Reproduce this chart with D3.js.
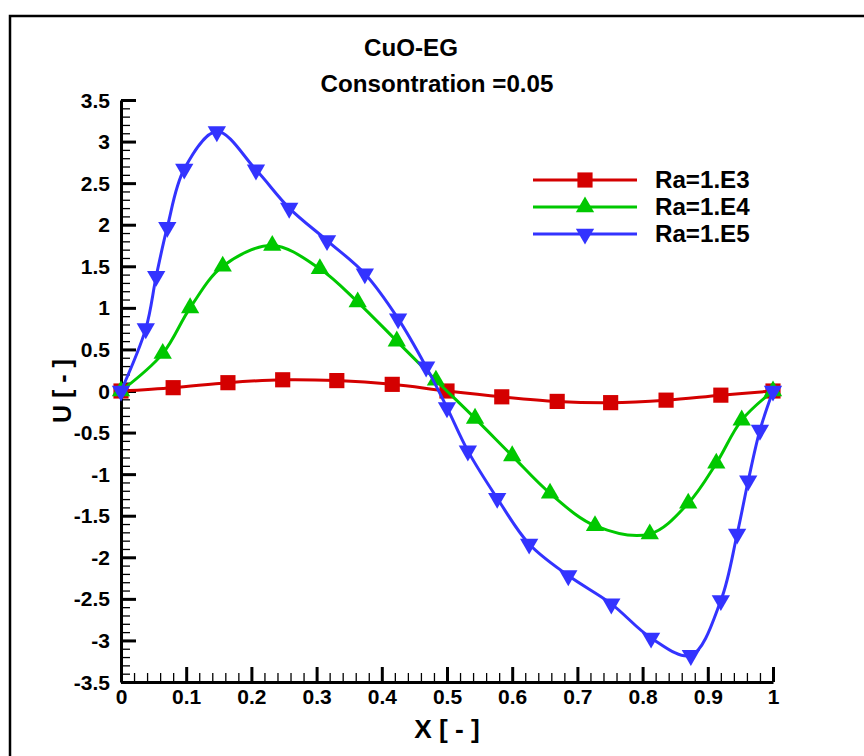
<!DOCTYPE html>
<html>
<head>
<meta charset="utf-8">
<script src="https://cdn.jsdelivr.net/npm/d3@7/dist/d3.min.js"></script>
<style>
  body { margin: 0; background: #fff; }
  text { font-family: "Liberation Sans", Arial, sans-serif; font-weight: bold; fill: #000; }
</style>
</head>
<body>
<svg id="chart" width="864" height="756"></svg>
<script>
'use strict';

// series (marker positions)
var seriesNames = ['Ra=1.E3', 'Ra=1.E4', 'Ra=1.E5'];
var seriesColors = ['#d40000', '#00c800', '#3333ff'];
var seriesSymbols = ['square', 'up', 'down'];

var ra3X = [0, 0.08, 0.164, 0.248, 0.331, 0.416, 0.5, 0.584, 0.669, 0.751, 0.836, 0.92, 1];
var ra3U = [0, 0.04, 0.10, 0.135, 0.125, 0.08, 0.0, -0.07, -0.125, -0.14, -0.11, -0.05, 0];

var ra4X = [0, 0.064, 0.106, 0.156, 0.232, 0.305, 0.363, 0.423, 0.483, 0.543, 0.6, 0.658, 0.727, 0.811, 0.87, 0.913, 0.952, 1];
var ra4U = [0, 0.45, 1.0, 1.5, 1.75, 1.47, 1.07, 0.6, 0.13, -0.33, -0.78, -1.23, -1.62, -1.72, -1.35, -0.87, -0.35, 0];

var ra5X = [0, 0.038, 0.054, 0.071, 0.097, 0.147, 0.207, 0.258, 0.316, 0.374, 0.425, 0.468, 0.5, 0.532, 0.577, 0.626, 0.686, 0.752, 0.813, 0.874, 0.92, 0.945, 0.962, 0.98, 1];
var ra5U = [0, 0.75, 1.38, 1.97, 2.67, 3.12, 2.66, 2.2, 1.81, 1.41, 0.87, 0.29, -0.2, -0.72, -1.29, -1.84, -2.22, -2.56, -2.97, -3.18, -2.52, -1.72, -1.08, -0.47, 0];

var xTickValues = [0, 0.1, 0.2, 0.3, 0.4, 0.5, 0.6, 0.7, 0.8, 0.9, 1];
var xTickLabels = ['0', '0.1', '0.2', '0.3', '0.4', '0.5', '0.6', '0.7', '0.8', '0.9', '1'];
var yTickValues = [-3.5, -3, -2.5, -2, -1.5, -1, -0.5, 0, 0.5, 1, 1.5, 2, 2.5, 3, 3.5];
var yTickLabels = ['-3.5', '-3', '-2.5', '-2', '-1.5', '-1', '-0.5', '0', '0.5', '1', '1.5', '2', '2.5', '3', '3.5'];

var titleLines = ['CuO-EG', 'Consontration =0.05'];

var series = [
  { x: ra3X, u: ra3U },
  { x: ra4X, u: ra4U },
  { x: ra5X, u: ra5U }
];

// text in the picture is a touch wider than Liberation Sans
var SX = 1.05;

var svg = d3.select('#chart');

var x = d3.scaleLinear().domain([0, 1]).range([121, 773]);
var y = d3.scaleLinear().domain([-3.5, 3.5]).range([682, 100]);

// outer frame
svg.append('rect')
  .attr('x', 10).attr('y', 16)
  .attr('width', 860).attr('height', 760)
  .attr('fill', 'none')
  .attr('stroke', '#000')
  .attr('stroke-width', 2.5);

// minor ticks
var minorX = d3.range(0, 1.0001, 0.02).filter(function (d) { return Math.abs(d * 10 - Math.round(d * 10)) > 1e-6; });
var minorY = d3.range(-3.5, 3.5001, 0.1).filter(function (d) { return Math.abs(d * 2 - Math.round(d * 2)) > 1e-6; });

svg.append('g')
  .attr('transform', 'translate(0,' + y(-3.5) + ')')
  .call(d3.axisBottom(x).tickValues(minorX).tickSize(-9).tickSizeOuter(0).tickFormat(''))
  .call(function (g) {
    g.select('.domain').remove();
    g.selectAll('line').attr('stroke-width', 1.3);
  });

svg.append('g')
  .attr('transform', 'translate(' + x(0) + ',0)')
  .call(d3.axisLeft(y).tickValues(minorY).tickSize(-9).tickSizeOuter(0).tickFormat(''))
  .call(function (g) {
    g.select('.domain').remove();
    g.selectAll('line').attr('stroke-width', 1.3);
  });

// major ticks + labels
var xAxis = svg.append('g')
  .attr('transform', 'translate(0,' + y(-3.5) + ')')
  .call(d3.axisBottom(x).tickValues(xTickValues).tickSize(-15).tickSizeOuter(0)
    .tickFormat(function (d, i) { return xTickLabels[i]; }));

xAxis.select('.domain').attr('stroke-width', 3);
xAxis.selectAll('.tick line').attr('stroke-width', 3);
xAxis.selectAll('.tick text')
  .attr('y', null).attr('dy', null)
  .attr('font-size', 20)
  .attr('text-anchor', 'middle')
  .attr('transform', 'translate(0,22) scale(' + SX + ',1)');

var yAxis = svg.append('g')
  .attr('transform', 'translate(' + x(0) + ',0)')
  .call(d3.axisLeft(y).tickValues(yTickValues).tickSize(-15).tickSizeOuter(0)
    .tickFormat(function (d, i) { return yTickLabels[i]; }));

yAxis.select('.domain').attr('stroke-width', 3);
yAxis.selectAll('.tick line').attr('stroke-width', 3);
yAxis.selectAll('.tick text')
  .attr('x', null).attr('dy', null)
  .attr('font-size', 20)
  .attr('text-anchor', 'end')
  .attr('transform', 'translate(-11,7) scale(' + SX + ',1)');

svg.selectAll('.tick text').attr('font-family', null).attr('fill', '#000');

// axis titles
svg.append('text')
  .attr('font-size', 25)
  .attr('text-anchor', 'middle')
  .attr('transform', 'translate(' + x(0.5) + ',738) scale(' + SX + ',1)')
  .text('X [ - ]');

svg.append('text')
  .attr('font-size', 25)
  .attr('text-anchor', 'middle')
  .attr('transform', 'translate(71,' + y(0) + ') scale(' + SX + ',1) rotate(-90)')
  .text('U [ - ]');

// title
svg.append('text')
  .attr('font-size', 23)
  .attr('text-anchor', 'middle')
  .attr('transform', 'translate(411,56) scale(' + SX + ',1)')
  .text(titleLines[0]);

svg.append('text')
  .attr('font-size', 23)
  .attr('text-anchor', 'middle')
  .attr('transform', 'translate(437,92) scale(' + SX + ',1)')
  .text(titleLines[1]);

// curves
var line = d3.line()
  .x(function (d) { return x(d[0]); })
  .y(function (d) { return y(d[1]); })
  .curve(d3.curveCatmullRom.alpha(0.5));

function symbolPath(kind) {
  if (kind === 'square') return d3.symbol().type(d3.symbolSquare).size(230)();
  return d3.symbol().type(d3.symbolTriangle).size(145)();
}

function markerTransform(kind, px, py) {
  if (kind === 'down') return 'translate(' + px + ',' + py + ') rotate(180)';
  return 'translate(' + px + ',' + py + ')';
}

series.forEach(function (s, k) {
  var pts = s.x.map(function (v, i) { return [v, s.u[i]]; });
  var g = svg.append('g');
  g.append('path')
    .datum(pts)
    .attr('d', line)
    .attr('fill', 'none')
    .attr('stroke', seriesColors[k])
    .attr('stroke-width', 3);
  g.selectAll('path.mark')
    .data(pts)
    .enter().append('path')
    .attr('class', 'mark')
    .attr('d', symbolPath(seriesSymbols[k]))
    .attr('transform', function (d) { return markerTransform(seriesSymbols[k], x(d[0]), y(d[1])); })
    .attr('fill', seriesColors[k]);
});

// legend
var legend = svg.append('g').attr('transform', 'translate(533,180)');
seriesNames.forEach(function (name, k) {
  var row = legend.append('g').attr('transform', 'translate(0,' + (k * 27) + ')');
  row.append('line')
    .attr('x1', 0).attr('x2', 104)
    .attr('stroke', seriesColors[k])
    .attr('stroke-width', 3);
  row.append('path')
    .attr('d', symbolPath(seriesSymbols[k]))
    .attr('transform', markerTransform(seriesSymbols[k], 52, 0))
    .attr('fill', seriesColors[k]);
  row.append('text')
    .attr('font-size', 23)
    .attr('transform', 'translate(122,8) scale(' + SX + ',1)')
    .text(name);
});
</script>
</body>
</html>
